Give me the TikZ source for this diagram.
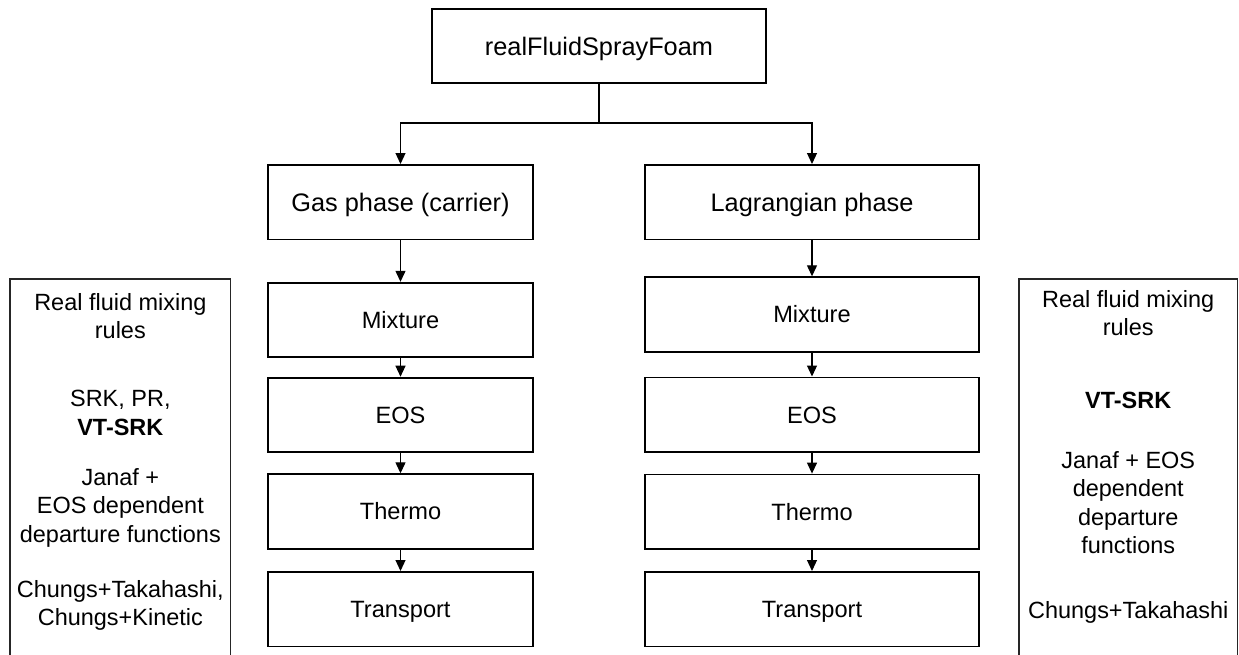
\documentclass[tikz,border=0pt]{standalone}
\usepackage{fontspec}
\setmainfont{Liberation Sans}
\usetikzlibrary{arrows.meta}
\begin{document}
\begin{tikzpicture}[x=0.75pt, y=-0.75pt,
  blk/.style={draw=black, line width=1.4pt, inner sep=0pt, text depth=0pt, minimum height=55.9pt},
  bigfont/.style={font=\fontsize{19pt}{23pt}\selectfont, text height=13.6pt},
  smallfont/.style={font=\fontsize{17.7pt}{21.3pt}\selectfont, text height=12.67pt},
  wideblk/.style={blk, minimum width=250.5pt},
  narrowblk/.style={blk, minimum width=198.75pt},
  tbox/.style={draw=black!85, line width=1pt, inner sep=0pt, minimum height=285.75pt},
  txt/.style={align=center, inner sep=0pt, font=\fontsize{17.6pt}{21.3pt}\selectfont},
  conn/.style={draw=black, line width=0.9pt},
  arr/.style={conn, -{Triangle[length=8.25pt, width=7.5pt]}}
]
\useasboundingbox (0,0) rectangle (1239,654);
\clip (0,0) rectangle (1239,654);

% top
\node[wideblk, bigfont, minimum height=55.5pt] (top) at (599,46) {realFluidSprayFoam};
\coordinate (hub) at (599,123);

% phases
\node[narrowblk, bigfont] (gas) at (400.5,202.2) {Gas phase (carrier)};
\node[wideblk, bigfont] (lag) at (812,202.2) {Lagrangian phase};

% left column
\node[narrowblk, smallfont] (lmix) at (400.5,320) {Mixture};
\node[narrowblk, smallfont] (leos) at (400.5,414.9) {EOS};
\node[narrowblk, smallfont] (lthe) at (400.5,511.5) {Thermo};
\node[narrowblk, smallfont] (ltra) at (400.5,609.2) {Transport};

% right column
\node[wideblk, smallfont] (rmix) at (812,314.5) {Mixture};
\node[wideblk, smallfont] (reos) at (812,414.7) {EOS};
\node[wideblk, smallfont] (rthe) at (812,511.8) {Thermo};
\node[wideblk, smallfont] (rtra) at (812,609.2) {Transport};

% side text boxes
\node[tbox, minimum width=165.5pt] (lbox) at (120.35,469.5) {};
\node[tbox, minimum width=163.9pt] (rbox) at (1128.25,469.5) {};

\node[txt, anchor=north] (ltxt) at (120.35,293) {Real fluid mixing\\rules\\[29.9pt]SRK, PR,\\\textbf{VT-SRK}\\[16.1pt]Janaf +\\EOS dependent\\departure functions\\[20.3pt]Chungs+Takahashi,\\Chungs+Kinetic};
\node[txt, anchor=north] (rtxt) at (1128.25,289.8) {Real fluid mixing\\rules\\[33.6pt]\textbf{VT-SRK}\\[23.6pt]Janaf + EOS\\dependent\\departure\\functions\\[27.4pt]Chungs+Takahashi};

% connectors
\draw[conn] (top.south) -- (hub);
\draw[arr] (hub) -| (gas.north);
\draw[arr] (hub) -| (lag.north);

\draw[arr] (gas.south) -- (lmix.north);
\draw[arr] (lmix.south) -- (leos.north);
\draw[arr] (leos.south) -- (lthe.north);
\draw[arr] (lthe.south) -- (ltra.north);

\draw[arr] (lag.south) -- (rmix.north);
\draw[arr] (rmix.south) -- (reos.north);
\draw[arr] (reos.south) -- (rthe.north);
\draw[arr] (rthe.south) -- (rtra.north);
\end{tikzpicture}
\end{document}
